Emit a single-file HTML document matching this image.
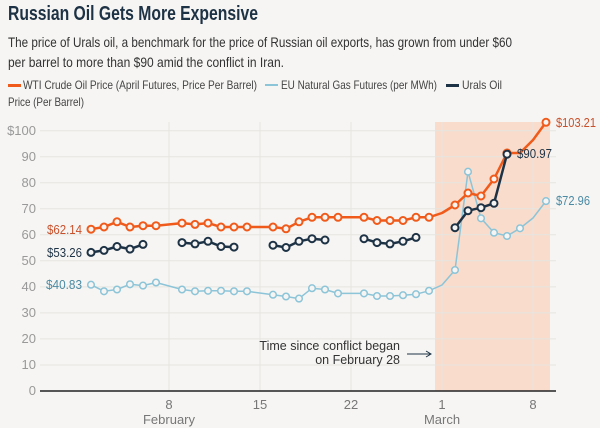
<!DOCTYPE html>
<html><head><meta charset="utf-8"><style>
body{margin:0;background:#f6f5f3;}
svg{display:block;font-family:"Liberation Sans",sans-serif;}
</style></head><body>
<svg width="600" height="428" viewBox="0 0 600 428" xmlns="http://www.w3.org/2000/svg">
<rect width="600" height="428" fill="#f6f5f3"/>
<text x="8" y="20" font-size="20" font-weight="bold" fill="#1d3245" textLength="250" lengthAdjust="spacingAndGlyphs">Russian Oil Gets More Expensive</text>
<text x="8" y="47" font-size="14" fill="#333" textLength="504" lengthAdjust="spacingAndGlyphs">The price of Urals oil, a benchmark for the price of Russian oil exports, has grown from under $60</text>
<text x="8" y="67" font-size="14" fill="#333" textLength="276" lengthAdjust="spacingAndGlyphs">per barrel to more than $90 amid the conflict in Iran.</text>
<rect x="8" y="84" width="13" height="3" fill="#f05a1a"/>
<text x="23" y="89" font-size="12" fill="#444" textLength="234" lengthAdjust="spacingAndGlyphs">WTI Crude Oil Price (April Futures, Price Per Barrel)</text>
<rect x="265" y="84" width="13" height="2" fill="#8cc4d8"/>
<text x="281" y="89" font-size="12" fill="#444" textLength="156" lengthAdjust="spacingAndGlyphs">EU Natural Gas Futures (per MWh)</text>
<rect x="446" y="84" width="13" height="3" fill="#1d3245"/>
<text x="462" y="89" font-size="12" fill="#444" textLength="40" lengthAdjust="spacingAndGlyphs">Urals Oil</text>
<text x="8" y="106" font-size="12" fill="#444" textLength="76" lengthAdjust="spacingAndGlyphs">Price (Per Barrel)</text>

<rect x="435" y="122" width="115" height="269" fill="#f9dccb"/>
<g stroke="#e6e5e2" stroke-width="1">
<line x1="40" x2="556" y1="130.7" y2="130.7"/><line x1="40" x2="556" y1="156.7" y2="156.7"/>
<line x1="40" x2="556" y1="182.8" y2="182.8"/><line x1="40" x2="556" y1="208.8" y2="208.8"/>
<line x1="40" x2="556" y1="234.8" y2="234.8"/><line x1="40" x2="556" y1="260.8" y2="260.8"/>
<line x1="40" x2="556" y1="286.9" y2="286.9"/><line x1="40" x2="556" y1="312.9" y2="312.9"/>
<line x1="40" x2="556" y1="338.9" y2="338.9"/><line x1="40" x2="556" y1="365" y2="365"/>
<line x1="169" x2="169" y1="122" y2="391"/><line x1="260" x2="260" y1="122" y2="391"/>
<line x1="351" x2="351" y1="122" y2="391"/><line x1="442" x2="442" y1="122" y2="391"/>
<line x1="533" x2="533" y1="122" y2="391"/>
</g>
<line x1="40" x2="556" y1="391" y2="391" stroke="#222" stroke-width="1.5"/>
<g font-size="13" fill="#999" text-anchor="end">
<text x="36" y="135">$100</text><text x="36" y="161">90</text><text x="36" y="187">80</text>
<text x="36" y="213">70</text><text x="36" y="239">60</text><text x="36" y="265">50</text>
<text x="36" y="291">40</text><text x="36" y="317">30</text><text x="36" y="343">20</text>
<text x="36" y="369">10</text><text x="36" y="395">0</text>
</g>
<g font-size="13" fill="#777" text-anchor="middle">
<text x="169" y="409">8</text><text x="260" y="409">15</text><text x="351" y="409">22</text>
<text x="442" y="409">1</text><text x="533" y="409">8</text>
<text x="169" y="424">February</text><text x="442" y="424">March</text>
</g>
<g font-size="12.5" fill="#333" text-anchor="end">
<text x="400" y="350">Time since conflict began</text>
<text x="400" y="364">on February 28</text>
</g>
<line x1="407" x2="430" y1="354" y2="354" stroke="#1d3245" stroke-width="1"/>
<path d="M426 351 L431 354 L426 357" fill="none" stroke="#1d3245" stroke-width="1"/>

<g fill="none" stroke-linejoin="round">
<polyline stroke="#8cc4d8" stroke-width="1.5" points="91,284.7 104,291.3 117,289.5 130,284.3 143,285.6 156,282.5 182,289.5 195,291.3 208,290.8 221,290.8 234,291.3 247,291.3 273,294.7 286,296.5 299,298.6 312,288.2 325,289.5 338,293.4 364,293.4 377,296 390,296 403,295.2 416,294.2 429,290.8 442,285 455,270 468,171.7 481,218.3 494,232.7 507,236 520,228.3 533,218 546,201.1"/>
<polyline stroke="#f05a1a" stroke-width="2.5" points="91,229.2 104,227 117,221.8 130,227 143,225.7 156,225.7 182,223.1 195,224.4 208,223.1 221,227 234,227 247,227 273,227 286,228.8 299,221.8 312,217.3 325,217.3 338,217.3 364,217.3 377,220.5 390,220.5 403,220.5 416,217.3 429,217.3 442,213 455,205 468,193 481,196 494,179 507,153 520,153 533,140 546,122.3"/>
<g stroke="#1d3245" stroke-width="2.5">
<polyline points="91,252.4 104,250.4 117,246.5 130,249.1 143,244.4"/>
<polyline points="182,242.6 195,243.9 208,241.3 221,246.5 234,247.1"/>
<polyline points="273,245.2 286,247.5 299,241.3 312,238.7 325,240"/>
<polyline points="364,238.7 377,242.6 390,243.9 403,241.3 416,237.4"/>
<polyline points="455,227.7 468,210.7 481,207.7 494,203.3 507,154.2"/>
</g>
</g>
<g fill="#f6f5f3" stroke="#8cc4d8" stroke-width="1.5">
<circle cx="91" cy="284.7" r="3.3"/><circle cx="104" cy="291.3" r="3.3"/><circle cx="117" cy="289.5" r="3.3"/><circle cx="130" cy="284.3" r="3.3"/><circle cx="143" cy="285.6" r="3.3"/><circle cx="156" cy="282.5" r="3.3"/>
<circle cx="182" cy="289.5" r="3.3"/><circle cx="195" cy="291.3" r="3.3"/><circle cx="208" cy="290.8" r="3.3"/><circle cx="221" cy="290.8" r="3.3"/><circle cx="234" cy="291.3" r="3.3"/><circle cx="247" cy="291.3" r="3.3"/>
<circle cx="273" cy="294.7" r="3.3"/><circle cx="286" cy="296.5" r="3.3"/><circle cx="299" cy="298.6" r="3.3"/><circle cx="312" cy="288.2" r="3.3"/><circle cx="325" cy="289.5" r="3.3"/><circle cx="338" cy="293.4" r="3.3"/>
<circle cx="364" cy="293.4" r="3.3"/><circle cx="377" cy="296" r="3.3"/><circle cx="390" cy="296" r="3.3"/><circle cx="403" cy="295.2" r="3.3"/><circle cx="416" cy="294.2" r="3.3"/><circle cx="429" cy="290.8" r="3.3"/>
<circle cx="455" cy="270" r="3.3"/><circle cx="468" cy="171.7" r="3.3"/><circle cx="481" cy="218.3" r="3.3"/><circle cx="494" cy="232.7" r="3.3"/><circle cx="507" cy="236" r="3.3"/><circle cx="520" cy="228.3" r="3.3"/><circle cx="546" cy="201.1" r="3.3"/>
</g>
<g fill="#f6f5f3" stroke="#f05a1a" stroke-width="2">
<circle cx="91" cy="229.2" r="3.5"/><circle cx="104" cy="227" r="3.5"/><circle cx="117" cy="221.8" r="3.5"/><circle cx="130" cy="227" r="3.5"/><circle cx="143" cy="225.7" r="3.5"/><circle cx="156" cy="225.7" r="3.5"/>
<circle cx="182" cy="223.1" r="3.5"/><circle cx="195" cy="224.4" r="3.5"/><circle cx="208" cy="223.1" r="3.5"/><circle cx="221" cy="227" r="3.5"/><circle cx="234" cy="227" r="3.5"/><circle cx="247" cy="227" r="3.5"/>
<circle cx="273" cy="227" r="3.5"/><circle cx="286" cy="228.8" r="3.5"/><circle cx="299" cy="221.8" r="3.5"/><circle cx="312" cy="217.3" r="3.5"/><circle cx="325" cy="217.3" r="3.5"/><circle cx="338" cy="217.3" r="3.5"/>
<circle cx="364" cy="217.3" r="3.5"/><circle cx="377" cy="220.5" r="3.5"/><circle cx="390" cy="220.5" r="3.5"/><circle cx="403" cy="220.5" r="3.5"/><circle cx="416" cy="217.3" r="3.5"/><circle cx="429" cy="217.3" r="3.5"/>
<circle cx="455" cy="205" r="3.5"/><circle cx="468" cy="193" r="3.5"/><circle cx="481" cy="196" r="3.5"/><circle cx="494" cy="179" r="3.5"/><circle cx="507" cy="153" r="3.5"/><circle cx="546" cy="122.3" r="3.5"/>
</g>
<g fill="#f6f5f3" stroke="#1d3245" stroke-width="2">
<circle cx="91" cy="252.4" r="3.5"/><circle cx="104" cy="250.4" r="3.5"/><circle cx="117" cy="246.5" r="3.5"/><circle cx="130" cy="249.1" r="3.5"/><circle cx="143" cy="244.4" r="3.5"/>
<circle cx="182" cy="242.6" r="3.5"/><circle cx="195" cy="243.9" r="3.5"/><circle cx="208" cy="241.3" r="3.5"/><circle cx="221" cy="246.5" r="3.5"/><circle cx="234" cy="247.1" r="3.5"/>
<circle cx="273" cy="245.2" r="3.5"/><circle cx="286" cy="247.5" r="3.5"/><circle cx="299" cy="241.3" r="3.5"/><circle cx="312" cy="238.7" r="3.5"/><circle cx="325" cy="240" r="3.5"/>
<circle cx="364" cy="238.7" r="3.5"/><circle cx="377" cy="242.6" r="3.5"/><circle cx="390" cy="243.9" r="3.5"/><circle cx="403" cy="241.3" r="3.5"/><circle cx="416" cy="237.4" r="3.5"/>
<circle cx="455" cy="227.7" r="3.5"/><circle cx="468" cy="210.7" r="3.5"/><circle cx="481" cy="207.7" r="3.5"/><circle cx="494" cy="203.3" r="3.5"/><circle cx="507" cy="154.2" r="3.5"/>
</g>
<g font-size="13">
<text x="47" y="234" fill="#c8502a" textLength="35" lengthAdjust="spacingAndGlyphs">$62.14</text>
<text x="47" y="257" fill="#1d3245" textLength="35" lengthAdjust="spacingAndGlyphs">$53.26</text>
<text x="46" y="289" fill="#4a8aa3" textLength="36" lengthAdjust="spacingAndGlyphs">$40.83</text>
<text x="556" y="127" fill="#c8502a" textLength="40" lengthAdjust="spacingAndGlyphs">$103.21</text>
<text x="517" y="158" fill="#1d3245" textLength="35" lengthAdjust="spacingAndGlyphs">$90.97</text>
<text x="556" y="205" fill="#4a8aa3" textLength="34" lengthAdjust="spacingAndGlyphs">$72.96</text>
</g>
</svg>
</body></html>
